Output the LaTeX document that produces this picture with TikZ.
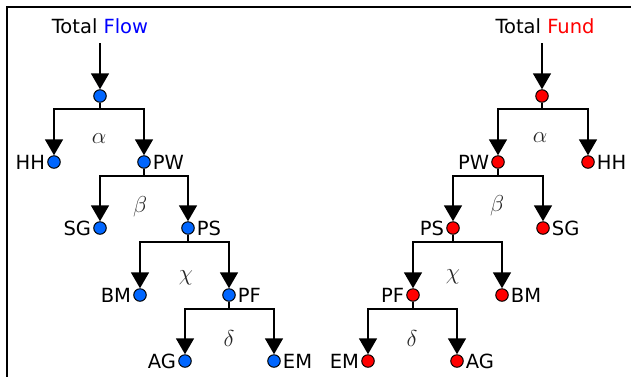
\documentclass[tikz,border=0pt]{standalone}
\usepackage{fix-cm}
\usepackage{fontspec}
\setmainfont{DejaVu Sans}
\usetikzlibrary{arrows.meta}
\definecolor{nblue}{HTML}{0066FF}
\definecolor{nred}{HTML}{FF0000}
\begin{document}
\begin{tikzpicture}[x=1pt,y=-1pt,
  every node/.style={font=\fontsize{19.5}{21}\selectfont},
  dot/.style={circle,draw=black,line width=1pt,inner sep=0pt,minimum size=12.5pt},
  bdot/.style={dot,fill=nblue},
  rdot/.style={dot,fill=nred},
  tline/.style={line width=1.8pt,black},
  arr/.style={tline,-{Triangle[width=18pt,length=16pt]}},
  grk/.style={text=black!85,font=\fontsize{23}{23}\selectfont},
  every label/.style={inner sep=1.5pt,font=\fontsize{19.5}{21}\selectfont},
  label distance=0.5pt]
\useasboundingbox (0,0) rectangle (631,376);
\draw[line width=2pt] (6.5,380) -- (6.5,6.5) -- (635,6.5);

% ---------- left tree (Flow)
\node[anchor=base] (ftitle) at (100,33) {Total \textcolor{blue}{Flow}};
\coordinate (ftop) at (100,43);
\node[bdot] (f0) at (100,96) {};
\node[bdot,label=left:HH] (fhh) at (54,162) {};
\node[bdot,label=right:PW] (fpw) at (144,162) {};
\node[bdot,label=left:SG] (fsg) at (100,228) {};
\node[bdot,label=right:PS] (fps) at (188,228) {};
\node[bdot,label=left:BM] (fbm) at (140,295) {};
\node[bdot,label=right:PF] (fpf) at (229,295) {};
\node[bdot,label=left:AG] (fag) at (185,361) {};
\node[bdot,label=right:EM] (fem) at (274,361) {};
\node[grk] (fa) at (99,139) {$\alpha$};
\node[grk] (fb) at (140,207) {$\beta$};
\node[grk] (fc) at (186,278) {$\chi$};
\node[grk] (fd) at (229,339) {$\delta$};

\draw[arr] (ftop) -- (f0.north);
\draw[tline] (f0.south) -- ++(0,6.5) coordinate (f0b);
\draw[arr] (f0b) -| (fhh.north);
\draw[arr] (f0b) -| (fpw.north);
\draw[tline] (fpw.south) -- ++(0,7.5) coordinate (fpwb);
\draw[arr] (fpwb) -| (fsg.north);
\draw[arr] (fpwb) -| (fps.north);
\draw[tline] (fps.south) -- ++(0,7.5) coordinate (fpsb);
\draw[arr] (fpsb) -| (fbm.north);
\draw[arr] (fpsb) -| (fpf.north);
\draw[tline] (fpf.south) -- ++(0,7.5) coordinate (fpfb);
\draw[arr] (fpfb) -| (fag.north);
\draw[arr] (fpfb) -| (fem.north);

% ---------- right tree (Fund)
\node[anchor=base] (rtitle) at (545,33) {Total \textcolor{red}{Fund}};
\coordinate (rtop) at (542,43);
\node[rdot] (r0) at (542,96) {};
\node[rdot,label=left:PW] (rpw) at (498,162) {};
\node[rdot,label=right:HH] (rhh) at (588,162) {};
\node[rdot,label=left:PS] (rps) at (453,228) {};
\node[rdot,label=right:SG] (rsg) at (543,228) {};
\node[rdot,label=left:PF] (rpf) at (413,295) {};
\node[rdot,label=right:BM] (rbm) at (502,295) {};
\node[rdot,label=left:EM] (rem) at (368,361) {};
\node[rdot,label=right:AG] (rag) at (457,361) {};
\node[grk] (ra) at (540,138) {$\alpha$};
\node[grk] (rb) at (497,206) {$\beta$};
\node[grk] (rc) at (453,277) {$\chi$};
\node[grk] (rd) at (412,339) {$\delta$};

\draw[arr] (rtop) -- (r0.north);
\draw[tline] (r0.south) -- ++(0,6.5) coordinate (r0b);
\draw[arr] (r0b) -| (rpw.north);
\draw[arr] (r0b) -| (rhh.north);
\draw[tline] (rpw.south) -- ++(0,7.5) coordinate (rpwb);
\draw[arr] (rpwb) -| (rps.north);
\draw[arr] (rpwb) -| (rsg.north);
\draw[tline] (rps.south) -- ++(0,7.5) coordinate (rpsb);
\draw[arr] (rpsb) -| (rpf.north);
\draw[arr] (rpsb) -| (rbm.north);
\draw[tline] (rpf.south) -- ++(0,7.5) coordinate (rpfb);
\draw[arr] (rpfb) -| (rem.north);
\draw[arr] (rpfb) -| (rag.north);
\end{tikzpicture}
\end{document}
